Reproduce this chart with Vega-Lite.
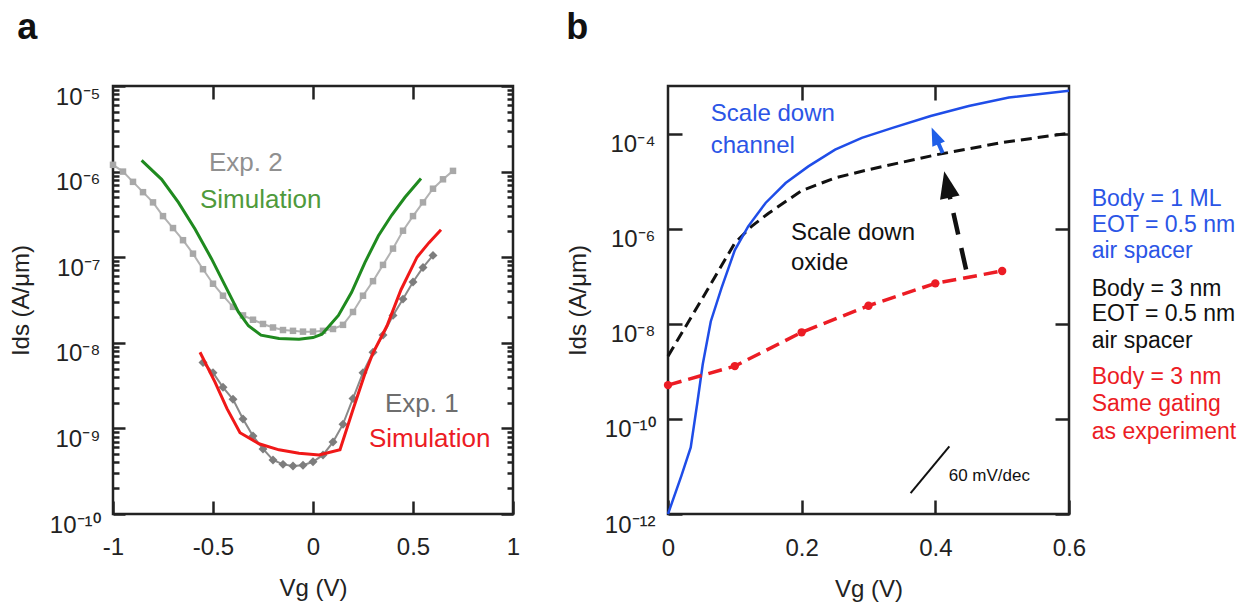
{
  "$schema": "https://vega.github.io/schema/vega-lite/v6.json",
  "background": "white",
  "padding": {"left": 8, "top": 8, "right": 0, "bottom": 0},
  "spacing": 44,
  "resolve": {"scale": {"color": "independent"}},
  "config": {
    "font": "Liberation Sans",
    "view": {"stroke": "#222", "strokeWidth": 2.5},
    "axis": {
      "domain": false, "grid": false, "ticks": true, "tickColor": "#222", "tickWidth": 2.5, "zindex": 1,
      "labelFont": "Liberation Sans", "labelFontSize": 24, "labelColor": "#222",
      "titleFont": "Liberation Sans", "titleFontSize": 24, "titleFontWeight": "normal", "titleColor": "#222",
      "labelOverlap": false, "labelFlush": false, "labelBound": false
    }
  },
  "datasets": {
    "exp2": [
      {"Vg": -1.0, "I": 1.20e-6}, {"Vg": -0.95, "I": 1.00e-6}, {"Vg": -0.9, "I": 7.59e-7}, {"Vg": -0.85, "I": 5.75e-7},
      {"Vg": -0.8, "I": 4.37e-7}, {"Vg": -0.75, "I": 3.02e-7}, {"Vg": -0.7, "I": 2.19e-7}, {"Vg": -0.65, "I": 1.58e-7},
      {"Vg": -0.6, "I": 1.10e-7}, {"Vg": -0.55, "I": 7.24e-8}, {"Vg": -0.5, "I": 4.90e-8}, {"Vg": -0.45, "I": 3.55e-8},
      {"Vg": -0.4, "I": 2.63e-8}, {"Vg": -0.35, "I": 2.09e-8}, {"Vg": -0.3, "I": 1.86e-8}, {"Vg": -0.25, "I": 1.66e-8},
      {"Vg": -0.2, "I": 1.51e-8}, {"Vg": -0.15, "I": 1.41e-8}, {"Vg": -0.1, "I": 1.38e-8}, {"Vg": -0.05, "I": 1.35e-8},
      {"Vg": 0.0, "I": 1.35e-8}, {"Vg": 0.05, "I": 1.38e-8}, {"Vg": 0.1, "I": 1.45e-8}, {"Vg": 0.15, "I": 1.62e-8},
      {"Vg": 0.2, "I": 2.29e-8}, {"Vg": 0.25, "I": 3.55e-8}, {"Vg": 0.3, "I": 5.25e-8}, {"Vg": 0.35, "I": 8.13e-8},
      {"Vg": 0.4, "I": 1.26e-7}, {"Vg": 0.45, "I": 2.04e-7}, {"Vg": 0.5, "I": 3.02e-7}, {"Vg": 0.55, "I": 4.37e-7},
      {"Vg": 0.6, "I": 6.31e-7}, {"Vg": 0.65, "I": 8.13e-7}, {"Vg": 0.7, "I": 1.02e-6}
    ],
    "exp1": [
      {"Vg": -0.55, "I": 5.89e-9}, {"Vg": -0.5, "I": 4.47e-9}, {"Vg": -0.45, "I": 3.02e-9}, {"Vg": -0.4, "I": 2.19e-9},
      {"Vg": -0.35, "I": 1.29e-9}, {"Vg": -0.3, "I": 8.13e-10}, {"Vg": -0.25, "I": 5.75e-10}, {"Vg": -0.2, "I": 4.27e-10},
      {"Vg": -0.15, "I": 3.80e-10}, {"Vg": -0.1, "I": 3.63e-10}, {"Vg": -0.05, "I": 3.72e-10}, {"Vg": 0.0, "I": 4.07e-10},
      {"Vg": 0.05, "I": 4.90e-10}, {"Vg": 0.1, "I": 6.92e-10}, {"Vg": 0.15, "I": 1.12e-9}, {"Vg": 0.2, "I": 2.24e-9},
      {"Vg": 0.25, "I": 4.47e-9}, {"Vg": 0.3, "I": 7.76e-9}, {"Vg": 0.35, "I": 1.23e-8}, {"Vg": 0.4, "I": 2.09e-8},
      {"Vg": 0.45, "I": 3.24e-8}, {"Vg": 0.5, "I": 5.13e-8}, {"Vg": 0.55, "I": 7.59e-8}, {"Vg": 0.6, "I": 1.05e-7}
    ],
    "sim2": [
      {"Vg": -0.857, "I": 1.35e-6}, {"Vg": -0.757, "I": 8.13e-7}, {"Vg": -0.673, "I": 4.37e-7}, {"Vg": -0.59, "I": 2.14e-7},
      {"Vg": -0.507, "I": 9.55e-8}, {"Vg": -0.44, "I": 4.68e-8}, {"Vg": -0.373, "I": 2.29e-8}, {"Vg": -0.323, "I": 1.58e-8},
      {"Vg": -0.26, "I": 1.23e-8}, {"Vg": -0.17, "I": 1.12e-8}, {"Vg": -0.07, "I": 1.10e-8}, {"Vg": 0.0, "I": 1.15e-8},
      {"Vg": 0.045, "I": 1.26e-8}, {"Vg": 0.127, "I": 2.09e-8}, {"Vg": 0.193, "I": 3.89e-8}, {"Vg": 0.26, "I": 8.71e-8},
      {"Vg": 0.327, "I": 1.78e-7}, {"Vg": 0.393, "I": 3.09e-7}, {"Vg": 0.46, "I": 5.01e-7}, {"Vg": 0.54, "I": 8.32e-7}
    ],
    "sim1": [
      {"Vg": -0.565, "I": 7.76e-9}, {"Vg": -0.49, "I": 3.47e-9}, {"Vg": -0.43, "I": 1.70e-9}, {"Vg": -0.365, "I": 8.91e-10},
      {"Vg": -0.27, "I": 6.61e-10}, {"Vg": -0.17, "I": 5.62e-10}, {"Vg": -0.07, "I": 5.13e-10}, {"Vg": 0.03, "I": 4.90e-10},
      {"Vg": 0.135, "I": 5.62e-10}, {"Vg": 0.2, "I": 1.66e-9}, {"Vg": 0.26, "I": 4.37e-9}, {"Vg": 0.3, "I": 7.59e-9},
      {"Vg": 0.37, "I": 1.58e-8}, {"Vg": 0.44, "I": 4.17e-8}, {"Vg": 0.52, "I": 1.0e-7}, {"Vg": 0.58, "I": 1.48e-7},
      {"Vg": 0.64, "I": 2.09e-7}
    ],
    "labelsA": [
      {"Vg": -0.52, "I": 1.02e-6, "label": "Exp. 2", "series": "Exp. 2"},
      {"Vg": -0.565, "I": 3.80e-7, "label": "Simulation", "series": "Simulation 2"},
      {"Vg": 0.36, "I": 1.55e-9, "label": "Exp. 1", "series": "Exp. 1"},
      {"Vg": 0.28, "I": 6.03e-10, "label": "Simulation", "series": "Simulation 1"}
    ],
    "blackB": [
      {"Vg": 0.0, "I": 2.09e-9}, {"Vg": 0.05, "I": 3.16e-8}, {"Vg": 0.1, "I": 5.01e-7}, {"Vg": 0.125, "I": 1.12e-6},
      {"Vg": 0.15, "I": 2.09e-6}, {"Vg": 0.2, "I": 6.31e-6}, {"Vg": 0.25, "I": 1.17e-5}, {"Vg": 0.3, "I": 1.74e-5},
      {"Vg": 0.4, "I": 3.55e-5}, {"Vg": 0.5, "I": 6.46e-5}, {"Vg": 0.6, "I": 1.02e-4}
    ],
    "blueB": [
      {"Vg": 0.0, "I": 1.0e-12}, {"Vg": 0.02, "I": 6.31e-12}, {"Vg": 0.034, "I": 2.51e-11}, {"Vg": 0.044, "I": 2.24e-10},
      {"Vg": 0.052, "I": 1.41e-9}, {"Vg": 0.064, "I": 1.12e-8}, {"Vg": 0.08, "I": 5.62e-8}, {"Vg": 0.1, "I": 3.55e-7},
      {"Vg": 0.12, "I": 1.12e-6}, {"Vg": 0.146, "I": 3.47e-6}, {"Vg": 0.176, "I": 9.12e-6}, {"Vg": 0.21, "I": 2.04e-5},
      {"Vg": 0.25, "I": 4.57e-5}, {"Vg": 0.29, "I": 8.13e-5}, {"Vg": 0.336, "I": 1.32e-4}, {"Vg": 0.393, "I": 2.34e-4},
      {"Vg": 0.45, "I": 3.80e-4}, {"Vg": 0.51, "I": 5.75e-4}, {"Vg": 0.6, "I": 7.94e-4}
    ],
    "redB": [
      {"Vg": 0.0, "I": 5.13e-10}, {"Vg": 0.1, "I": 1.29e-9}, {"Vg": 0.2, "I": 6.61e-9},
      {"Vg": 0.3, "I": 2.40e-8}, {"Vg": 0.4, "I": 7.08e-8}, {"Vg": 0.5, "I": 1.29e-7}
    ],
    "textBig": [
      {"Vg": 0.064, "I": 1.82e-4, "label": "Scale down", "series": "channel"},
      {"Vg": 0.064, "I": 3.89e-5, "label": "channel", "series": "channel"},
      {"Vg": 0.184, "I": 5.89e-7, "label": "Scale down", "series": "oxide"},
      {"Vg": 0.184, "I": 1.38e-7, "label": "oxide", "series": "oxide"}
    ],
    "textLegend": [
      {"Vg": 0.634, "I": 2.96e-6, "label": "Body = 1 ML", "series": "channel"},
      {"Vg": 0.634, "I": 8.39e-7, "label": "EOT = 0.5 nm", "series": "channel"},
      {"Vg": 0.634, "I": 2.39e-7, "label": "air spacer", "series": "channel"},
      {"Vg": 0.634, "I": 3.80e-8, "label": "Body = 3 nm", "series": "oxide"},
      {"Vg": 0.634, "I": 1.14e-8, "label": "EOT = 0.5 nm", "series": "oxide"},
      {"Vg": 0.634, "I": 3.07e-9, "label": "air spacer", "series": "oxide"},
      {"Vg": 0.634, "I": 5.38e-10, "label": "Body = 3 nm", "series": "experiment"},
      {"Vg": 0.634, "I": 1.46e-10, "label": "Same gating", "series": "experiment"},
      {"Vg": 0.634, "I": 3.77e-11, "label": "as experiment", "series": "experiment"}
    ]
  },
  "hconcat": [
    {
      "width": 400,
      "height": 428,
      "title": {"text": "a", "anchor": "start", "frame": "bounds", "fontSize": 36, "fontWeight": "bold", "font": "Liberation Sans", "color": "#111", "offset": 38, "dx": 8},
      "resolve": {"axis": {"x": "independent", "y": "independent"}},
      "layer": [
        {
          "data": {"name": "exp2"},
          "mark": {"type": "line", "color": "#b3b3b3", "strokeWidth": 2, "point": {"shape": "square", "size": 42, "color": "#a8a8a8", "filled": true}},
          "encoding": {
            "x": {"field": "Vg", "type": "quantitative", "scale": {"domain": [-1, 1], "nice": false},
              "axis": {"orient": "bottom", "values": [-1, -0.5, 0, 0.5, 1], "labelExpr": "'' + datum.value", "tickSize": -13, "labelPadding": 34, "title": "Vg (V)", "titlePadding": 17}},
            "y": {"field": "I", "type": "quantitative", "scale": {"type": "log", "domain": [1e-10, 1e-5], "nice": false},
              "axis": {"orient": "left",
                "values": [1e-10, 2e-10, 3e-10, 4e-10, 5e-10, 6e-10, 7e-10, 8e-10, 9e-10, 1e-9, 2e-9, 3e-9, 4e-9, 5e-9, 6e-9, 7e-9, 8e-9, 9e-9, 1e-8, 2e-8, 3e-8, 4e-8, 5e-8, 6e-8, 7e-8, 8e-8, 9e-8, 1e-7, 2e-7, 3e-7, 4e-7, 5e-7, 6e-7, 7e-7, 8e-7, 9e-7, 1e-6, 2e-6, 3e-6, 4e-6, 5e-6, 6e-6, 7e-6, 8e-6, 9e-6, 1e-5],
                "labelExpr": "abs(log(datum.value)/LN10 - round(log(datum.value)/LN10)) < 0.01 ? '10⁻' + ['⁰','¹','²','³','⁴','⁵','⁶','⁷','⁸','⁹','¹⁰','¹¹','¹²'][round(-log(datum.value)/LN10)] : ''",
                "tickSize": {"condition": {"test": "abs(log(datum.value)/LN10 - round(log(datum.value)/LN10)) < 0.01", "value": -12}, "value": -6},
                "labelPadding": 25, "labelOffset": 11, "title": "Ids (A/μm)", "titlePadding": 16}}
          }
        },
        {
          "data": {"name": "exp1"},
          "mark": {"type": "line", "color": "#8a8a8a", "strokeWidth": 2, "point": {"shape": "diamond", "size": 80, "color": "#7d7d7d", "filled": true}},
          "encoding": {
            "x": {"field": "Vg", "type": "quantitative", "scale": {"domain": [-1, 1], "nice": false},
              "axis": {"orient": "top", "values": [-0.5, 0, 0.5], "labels": false, "tickSize": -13, "title": null}},
            "y": {"field": "I", "type": "quantitative", "scale": {"type": "log", "domain": [1e-10, 1e-5], "nice": false},
              "axis": {"orient": "right",
                "values": [1e-10, 2e-10, 3e-10, 4e-10, 5e-10, 6e-10, 7e-10, 8e-10, 9e-10, 1e-9, 2e-9, 3e-9, 4e-9, 5e-9, 6e-9, 7e-9, 8e-9, 9e-9, 1e-8, 2e-8, 3e-8, 4e-8, 5e-8, 6e-8, 7e-8, 8e-8, 9e-8, 1e-7, 2e-7, 3e-7, 4e-7, 5e-7, 6e-7, 7e-7, 8e-7, 9e-7, 1e-6, 2e-6, 3e-6, 4e-6, 5e-6, 6e-6, 7e-6, 8e-6, 9e-6, 1e-5],
                "labels": false,
                "tickSize": {"condition": {"test": "abs(log(datum.value)/LN10 - round(log(datum.value)/LN10)) < 0.01", "value": -12}, "value": -6},
                "title": null}}
          }
        },
        {
          "data": {"name": "sim2"},
          "mark": {"type": "line", "color": "#1f8a1f", "strokeWidth": 3},
          "encoding": {
            "x": {"field": "Vg", "type": "quantitative", "axis": null},
            "y": {"field": "I", "type": "quantitative", "axis": null}
          }
        },
        {
          "data": {"name": "sim1"},
          "mark": {"type": "line", "color": "#f01818", "strokeWidth": 3},
          "encoding": {
            "x": {"field": "Vg", "type": "quantitative", "axis": null},
            "y": {"field": "I", "type": "quantitative", "axis": null}
          }
        },
        {
          "data": {"name": "labelsA"},
          "mark": {"type": "text", "align": "left", "baseline": "alphabetic", "fontSize": 26, "font": "Liberation Sans"},
          "encoding": {
            "x": {"field": "Vg", "type": "quantitative", "axis": null},
            "y": {"field": "I", "type": "quantitative", "axis": null},
            "text": {"field": "label"},
            "color": {"field": "series", "type": "nominal", "legend": null,
              "scale": {"domain": ["Exp. 2", "Simulation 2", "Exp. 1", "Simulation 1"], "range": ["#909090", "#4f9a3c", "#6e6e6e", "#ec1c24"]}}
          }
        }
      ]
    },
    {
      "width": 401,
      "height": 428,
      "title": {"text": "b", "anchor": "start", "frame": "bounds", "fontSize": 36, "fontWeight": "bold", "font": "Liberation Sans", "color": "#111", "offset": 38},
      "resolve": {"axis": {"x": "independent", "y": "independent"}},
      "layer": [
        {
          "data": {"name": "blackB"},
          "mark": {"type": "line", "color": "#111", "strokeWidth": 3, "strokeDash": [11, 6]},
          "encoding": {
            "x": {"field": "Vg", "type": "quantitative", "scale": {"domain": [0, 0.6], "nice": false},
              "axis": {"orient": "bottom", "values": [0, 0.2, 0.4, 0.6], "labelExpr": "'' + datum.value", "tickSize": -14, "labelPadding": 36, "title": "Vg (V)", "titlePadding": 17}},
            "y": {"field": "I", "type": "quantitative", "scale": {"type": "log", "domain": [1e-12, 1e-3], "nice": false},
              "axis": {"orient": "left", "values": [1e-12, 1e-10, 1e-8, 1e-6, 1e-4],
                "labelExpr": "'10⁻' + ['⁰','¹','²','³','⁴','⁵','⁶','⁷','⁸','⁹','¹⁰','¹¹','¹²'][round(-log(datum.value)/LN10)]",
                "tickSize": -14, "labelPadding": 27, "labelOffset": 11, "title": "Ids (A/μm)", "titlePadding": 14}}
          }
        },
        {
          "data": {"name": "blueB"},
          "mark": {"type": "line", "color": "#1f4de8", "strokeWidth": 2.5},
          "encoding": {
            "x": {"field": "Vg", "type": "quantitative", "scale": {"domain": [0, 0.6], "nice": false},
              "axis": {"orient": "top", "values": [0.2, 0.4], "labels": false, "tickSize": -14, "title": null}},
            "y": {"field": "I", "type": "quantitative", "scale": {"type": "log", "domain": [1e-12, 1e-3], "nice": false},
              "axis": {"orient": "right", "values": [1e-12, 1e-10, 1e-8, 1e-6, 1e-4], "labels": false, "tickSize": -14, "title": null}}
          }
        },
        {
          "data": {"name": "redB"},
          "mark": {"type": "line", "color": "#ec1c24", "strokeWidth": 3.5, "strokeDash": [14, 7], "point": {"filled": true, "size": 70, "color": "#ec1c24"}},
          "encoding": {
            "x": {"field": "Vg", "type": "quantitative", "axis": null},
            "y": {"field": "I", "type": "quantitative", "axis": null}
          }
        },
        {
          "data": {"values": [{"Vg": 0.411, "I": 3.89e-5, "Vg2": 0.3997, "I2": 8.95e-5}]},
          "mark": {"type": "rule", "color": "#1f5fe8", "strokeWidth": 4},
          "encoding": {
            "x": {"field": "Vg", "type": "quantitative", "axis": null},
            "y": {"field": "I", "type": "quantitative", "axis": null},
            "x2": {"field": "Vg2"},
            "y2": {"field": "I2"}
          }
        },
        {
          "data": {"values": [{"Vg": 0.3997, "I": 8.95e-5}]},
          "mark": {"type": "point", "shape": "M0,-1L0.76,1L-0.76,1Z", "size": 324, "filled": true, "color": "#1f5fe8", "opacity": 1, "angle": -23},
          "encoding": {
            "x": {"field": "Vg", "type": "quantitative", "axis": null},
            "y": {"field": "I", "type": "quantitative", "axis": null}
          }
        },
        {
          "data": {"values": [{"Vg": 0.446, "I": 1.38e-7, "Vg2": 0.4175, "I2": 8.49e-6}]},
          "mark": {"type": "rule", "color": "#111", "strokeWidth": 4.5, "strokeDash": [22, 14]},
          "encoding": {
            "x": {"field": "Vg", "type": "quantitative", "axis": null},
            "y": {"field": "I", "type": "quantitative", "axis": null},
            "x2": {"field": "Vg2"},
            "y2": {"field": "I2"}
          }
        },
        {
          "data": {"values": [{"Vg": 0.4175, "I": 8.49e-6}]},
          "mark": {"type": "point", "shape": "M0,-1L0.74,1L-0.74,1Z", "size": 729, "filled": true, "color": "#111", "opacity": 1, "angle": -12},
          "encoding": {
            "x": {"field": "Vg", "type": "quantitative", "axis": null},
            "y": {"field": "I", "type": "quantitative", "axis": null}
          }
        },
        {
          "data": {"values": [{"Vg": 0.363, "I": 2.75e-12}, {"Vg": 0.421, "I": 2.63e-11}]},
          "mark": {"type": "line", "color": "#111", "strokeWidth": 2},
          "encoding": {
            "x": {"field": "Vg", "type": "quantitative", "axis": null},
            "y": {"field": "I", "type": "quantitative", "axis": null}
          }
        },
        {
          "data": {"values": [{"Vg": 0.42, "I": 4.9e-12, "label": "60 mV/dec"}]},
          "mark": {"type": "text", "align": "left", "baseline": "alphabetic", "fontSize": 17, "color": "#111", "font": "Liberation Sans"},
          "encoding": {
            "x": {"field": "Vg", "type": "quantitative", "axis": null},
            "y": {"field": "I", "type": "quantitative", "axis": null},
            "text": {"field": "label"}
          }
        },
        {
          "data": {"name": "textBig"},
          "mark": {"type": "text", "align": "left", "baseline": "alphabetic", "fontSize": 24, "font": "Liberation Sans"},
          "encoding": {
            "x": {"field": "Vg", "type": "quantitative", "axis": null},
            "y": {"field": "I", "type": "quantitative", "axis": null},
            "text": {"field": "label"},
            "color": {"field": "series", "type": "nominal", "legend": null,
              "scale": {"domain": ["channel", "oxide", "experiment"], "range": ["#2b55e6", "#111111", "#ec1c24"]}}
          }
        },
        {
          "data": {"name": "textLegend"},
          "mark": {"type": "text", "align": "left", "baseline": "alphabetic", "fontSize": 23, "font": "Liberation Sans"},
          "encoding": {
            "x": {"field": "Vg", "type": "quantitative", "axis": null},
            "y": {"field": "I", "type": "quantitative", "axis": null},
            "text": {"field": "label"},
            "color": {"field": "series", "type": "nominal", "legend": null,
              "scale": {"domain": ["channel", "oxide", "experiment"], "range": ["#2b55e6", "#111111", "#ec1c24"]}}
          }
        }
      ]
    }
  ]
}
